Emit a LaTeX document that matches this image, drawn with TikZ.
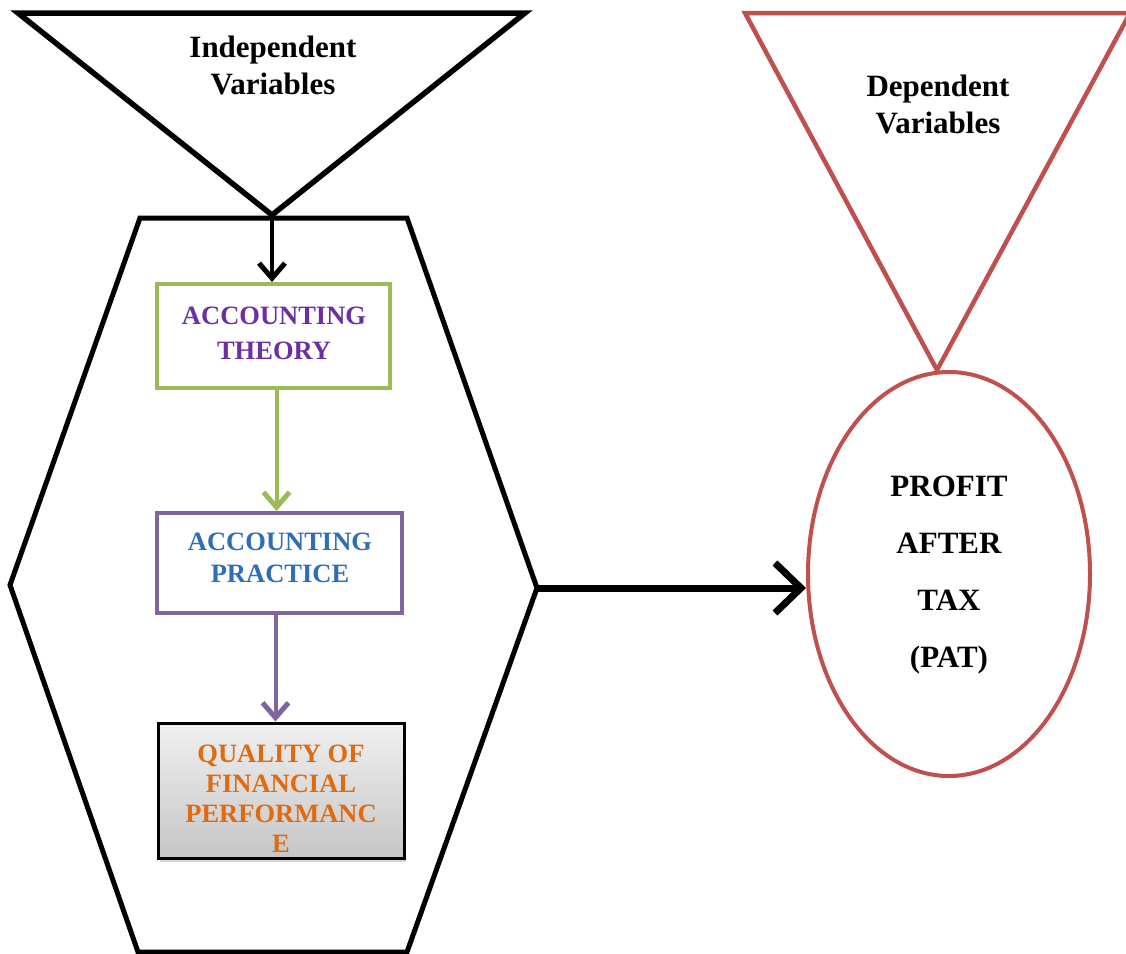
\documentclass[tikz,border=0pt]{standalone}
\usepackage{fontspec}
\setmainfont{Liberation Serif}
\usetikzlibrary{arrows.meta,shapes.geometric,shadows}
\definecolor{accgreen}{HTML}{9BBB59}
\definecolor{accpurple}{HTML}{8064A2}
\definecolor{accred}{HTML}{C0504D}
\definecolor{txtpurple}{HTML}{6B2FA3}
\definecolor{txtblue}{HTML}{2E6DB8}
\definecolor{txtorange}{HTML}{E06A10}
\begin{document}
\begin{tikzpicture}[x=1pt,y=-1pt,
  lbl/.style={font=\fontsize{31}{37}\selectfont\bfseries, align=center, inner sep=0pt},
  boxlbl/.style={font=\fontsize{26.5}{35}\selectfont\bfseries, align=center, inner sep=0pt},
  flowbox/.style={draw, line width=4pt, fill=white, inner sep=0pt},
  smallarrow/.style={line width=4pt, -{Straight Barb[length=15pt,width=26pt,line width=5pt]}},
  bigarrow/.style={line width=7pt, -{Straight Barb[length=26pt,width=50pt,line width=7pt]}},
  outline/.style={line width=5.5pt, line join=miter}
]
\useasboundingbox (0,0) rectangle (1126,953);

% left triangle
\coordinate (tlA) at (18,13);
\coordinate (tlB) at (525,13);
\coordinate (tipL) at (272,215);
\draw[outline] (tlA) -- (tlB) -- (tipL) -- cycle;
\node[lbl] (indep) at (273,65) {Independent\\Variables};

% hexagon
\coordinate (hTL) at (140,218);
\coordinate (hTR) at (407,218);
\coordinate (hR) at (537,588);
\coordinate (hBR) at (407,952);
\coordinate (hBL) at (138,952);
\coordinate (hL) at (10,585);
\draw[outline, line width=5pt] (hTL) -- (hTR) -- (hR) -- (hBR) -- (hBL) -- (hL) -- cycle;

% boxes
\node[flowbox, draw=accgreen, minimum width=233pt, minimum height=104pt] (box1) at (273.5,336) {};
\node[boxlbl, text=txtpurple] at (274,333) {ACCOUNTING\\THEORY};

\node[flowbox, draw=accpurple, minimum width=245pt, minimum height=100pt] (box2) at (279.5,563) {};
\node[boxlbl, font=\fontsize{26.5}{32}\selectfont\bfseries, text=txtblue] at (280,558) {ACCOUNTING\\PRACTICE};

\node[draw=black, line width=3pt, top color=gray!12, bottom color=gray!45,
      drop shadow={shadow xshift=2pt, shadow yshift=-4pt, opacity=0.35},
      minimum width=246pt, minimum height=135pt, inner sep=0pt] (box3) at (281,790.5) {};
\node[boxlbl, font=\fontsize{26.5}{30}\selectfont\bfseries, text=txtorange] (box3txt) at (281,799) {QUALITY OF\\FINANCIAL\\PERFORMANC\\E};

% vertical arrows
\draw[smallarrow, black] (tipL) -- (tipL |- box1.north);
\draw[smallarrow, accgreen] ([xshift=3pt]box1.south) -- ([xshift=3pt]box1.south |- box2.north);
\draw[smallarrow, accpurple] ([xshift=-4pt]box2.south) -- ([xshift=-4pt]box2.south |- box3.north);

% right triangle
\coordinate (trA) at (745,13);
\coordinate (trB) at (1130,13);
\coordinate (tipR) at (937,370);
\draw[outline, accred, line width=4.5pt] (trA) -- (trB) -- (tipR) -- cycle;
\node[lbl] (dep) at (938,104) {Dependent\\Variables};

% ellipse
\node[draw=accred, line width=4pt, ellipse, minimum width=282pt, minimum height=404pt, inner sep=0pt] (pat) at (949,574) {};
\node[lbl, font=\fontsize{31}{57}\selectfont\bfseries] (pattxt) at (949,575) {PROFIT\\AFTER\\TAX\\(PAT)};

% big arrow
\draw[bigarrow] (hR) -- (hR -| pat.west);
\end{tikzpicture}
\end{document}
